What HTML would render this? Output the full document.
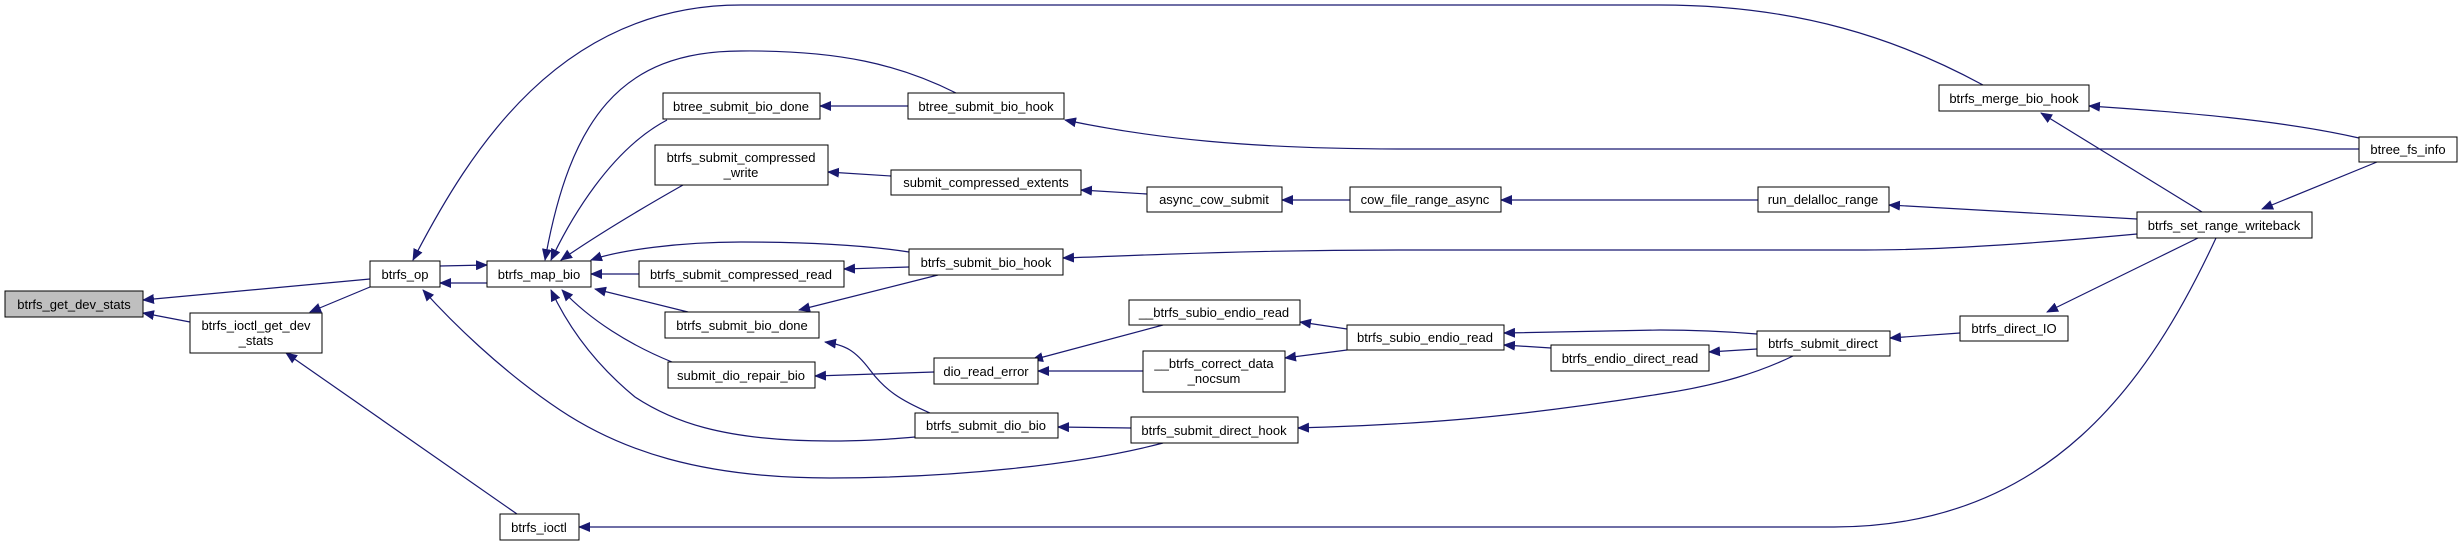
<!DOCTYPE html>
<html><head><meta charset="utf-8"><style>
html,body{margin:0;padding:0;background:#fff;}
svg{display:block;}
text{font-family:"Liberation Sans",sans-serif;font-size:13px;fill:#000;}
</style></head><body>
<svg width="2463" height="547" viewBox="0 0 2463 547" xmlns="http://www.w3.org/2000/svg">
<defs>
<marker id="a" markerWidth="12" markerHeight="10" refX="11" refY="5" orient="auto" markerUnits="userSpaceOnUse">
<path d="M0,0 L12,5 L0,10 z" fill="#191970"/>
</marker>
</defs>
<g fill="none" stroke="#191970" stroke-width="1.2" marker-end="url(#a)">
<path d="M370,279 L143,300"/>
<path d="M190,322 L143,313"/>
<path d="M370,287 L310,312"/>
<path d="M517,514 L286,353"/>
<path d="M487,283 L440,283"/>
<path d="M440,266 L487,265"/>
<path d="M1983,85 C1900,40 1800,5 1660,5 L741,5 C560,5 470,150 413,260"/>
<path d="M956,93 C900,65 840,50 741,51 C620,51 570,120 545,260"/>
<path d="M667,120 C610,150 570,220 551,260"/>
<path d="M908,106 L820,106"/>
<path d="M683,185 C630,215 590,240 561,260"/>
<path d="M891,176 L828,172"/>
<path d="M1147,194 L1081,190"/>
<path d="M1350,200 L1282,200"/>
<path d="M1758,200 L1501,200"/>
<path d="M2137,219 L1889,205"/>
<path d="M2202,212 L2041,113"/>
<path d="M2359,138 C2280,120 2180,112 2089,106"/>
<path d="M2377,162 L2262,209"/>
<path d="M2359,149 L1401,149 C1250,149 1150,138 1065,120"/>
<path d="M2137,234 C2050,242 1950,250 1865,250 L1400,250 C1250,250 1150,255 1063,258"/>
<path d="M909,252 C870,246 820,242 741,242 C680,242 620,250 591,260"/>
<path d="M909,267 L844,269"/>
<path d="M639,274 L591,274"/>
<path d="M938,275 L799,310"/>
<path d="M688,312 L595,289"/>
<path d="M672,362 C630,345 590,320 562,290"/>
<path d="M934,372 L815,376"/>
<path d="M930,413 C900,400 885,390 870,370 C855,350 845,345 825,342"/>
<path d="M915,437 C880,440 860,441 830,441 C720,441 670,420 635,397 C590,360 565,320 551,290"/>
<path d="M1163,443 C1080,465 950,478 830,478 C700,478 620,450 560,410 C500,370 450,320 423,290"/>
<path d="M1131,428 L1058,427"/>
<path d="M1793,356 C1760,372 1720,385 1660,394 C1500,420 1400,425 1298,428"/>
<path d="M1757,334 C1720,331 1690,330 1660,330 L1504,333"/>
<path d="M1757,349 L1709,352"/>
<path d="M1551,348 L1504,345"/>
<path d="M1347,329 L1300,322"/>
<path d="M1347,350 L1285,358"/>
<path d="M1163,325 L1032,360"/>
<path d="M1143,371 L1038,371"/>
<path d="M1960,333 L1890,338"/>
<path d="M2198,238 L2047,312"/>
<path d="M2216,238 C2150,380 2050,527 1834,527 L579,527"/>
</g>
<g stroke="#000" stroke-width="1">
<rect x="5" y="291" width="138" height="26" fill="#bfbfbf"/>
<rect x="190" y="313" width="132" height="40" fill="#fff"/>
<rect x="370" y="261" width="70" height="26" fill="#fff"/>
<rect x="487" y="261" width="104" height="26" fill="#fff"/>
<rect x="663" y="93" width="157" height="26" fill="#fff"/>
<rect x="655" y="145" width="173" height="40" fill="#fff"/>
<rect x="639" y="261" width="205" height="26" fill="#fff"/>
<rect x="665" y="312" width="154" height="26" fill="#fff"/>
<rect x="668" y="362" width="147" height="26" fill="#fff"/>
<rect x="500" y="514" width="79" height="26" fill="#fff"/>
<rect x="908" y="93" width="156" height="26" fill="#fff"/>
<rect x="891" y="170" width="190" height="25" fill="#fff"/>
<rect x="1147" y="187" width="135" height="25" fill="#fff"/>
<rect x="1350" y="187" width="151" height="25" fill="#fff"/>
<rect x="909" y="249" width="154" height="26" fill="#fff"/>
<rect x="1129" y="300" width="171" height="25" fill="#fff"/>
<rect x="1347" y="325" width="157" height="25" fill="#fff"/>
<rect x="934" y="358" width="104" height="26" fill="#fff"/>
<rect x="1143" y="351" width="142" height="41" fill="#fff"/>
<rect x="1551" y="345" width="158" height="26" fill="#fff"/>
<rect x="915" y="413" width="143" height="25" fill="#fff"/>
<rect x="1131" y="417" width="167" height="26" fill="#fff"/>
<rect x="1939" y="85" width="150" height="26" fill="#fff"/>
<rect x="2359" y="137" width="98" height="25" fill="#fff"/>
<rect x="1758" y="187" width="131" height="25" fill="#fff"/>
<rect x="2137" y="212" width="175" height="26" fill="#fff"/>
<rect x="1960" y="316" width="108" height="25" fill="#fff"/>
<rect x="1757" y="331" width="133" height="25" fill="#fff"/>
</g>
<g text-anchor="middle">
<text x="74" y="309">btrfs_get_dev_stats</text>
<text x="256" y="330">btrfs_ioctl_get_dev</text>
<text x="256" y="345">_stats</text>
<text x="405" y="279">btrfs_op</text>
<text x="539" y="279">btrfs_map_bio</text>
<text x="741" y="111">btree_submit_bio_done</text>
<text x="741" y="162">btrfs_submit_compressed</text>
<text x="741" y="177">_write</text>
<text x="741" y="279">btrfs_submit_compressed_read</text>
<text x="742" y="330">btrfs_submit_bio_done</text>
<text x="741" y="380">submit_dio_repair_bio</text>
<text x="539" y="532">btrfs_ioctl</text>
<text x="986" y="111">btree_submit_bio_hook</text>
<text x="986" y="187">submit_compressed_extents</text>
<text x="1214" y="204">async_cow_submit</text>
<text x="1425" y="204">cow_file_range_async</text>
<text x="986" y="267">btrfs_submit_bio_hook</text>
<text x="1214" y="317">__btrfs_subio_endio_read</text>
<text x="1425" y="342">btrfs_subio_endio_read</text>
<text x="986" y="376">dio_read_error</text>
<text x="1214" y="368">__btrfs_correct_data</text>
<text x="1214" y="383">_nocsum</text>
<text x="1630" y="363">btrfs_endio_direct_read</text>
<text x="986" y="430">btrfs_submit_dio_bio</text>
<text x="1214" y="435">btrfs_submit_direct_hook</text>
<text x="2014" y="103">btrfs_merge_bio_hook</text>
<text x="2408" y="154">btree_fs_info</text>
<text x="1823" y="204">run_delalloc_range</text>
<text x="2224" y="230">btrfs_set_range_writeback</text>
<text x="2014" y="333">btrfs_direct_IO</text>
<text x="1823" y="348">btrfs_submit_direct</text>
</g>
</svg>
</body></html>
